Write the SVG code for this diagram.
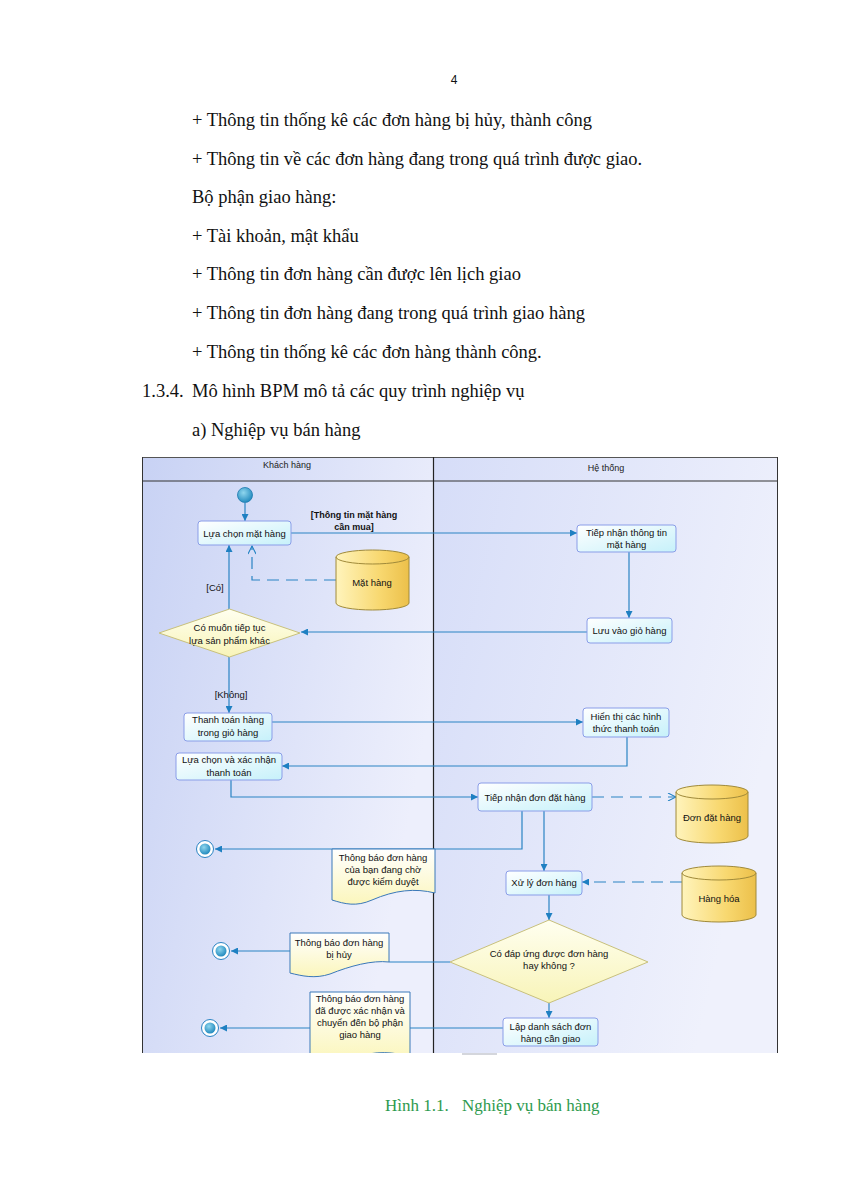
<svg xmlns="http://www.w3.org/2000/svg" width="849" height="1200" viewBox="0 0 849 1200">
<defs>
<style>
.pg{font-family:"Liberation Serif","Times New Roman",serif;font-size:18.5px;fill:#111}
.t{font-family:"Liberation Sans",Arial,sans-serif;font-size:9.5px;fill:#111;text-anchor:middle}
.hd{font-family:"Liberation Sans",Arial,sans-serif;font-size:9px;fill:#222;text-anchor:middle}
.b{font-weight:bold;font-size:9px}
.act{fill:url(#gAct);stroke:#8a9de8;stroke-width:1}
.dia{fill:url(#gDia);stroke:#c8c07c;stroke-width:1}
.cyl{fill:url(#gCyl);stroke:#a08a3a;stroke-width:1}
.doc{fill:url(#gDoc);stroke:#3a78b8;stroke-width:1}
.ln{fill:none;stroke:#2a84c4;stroke-width:1.2}
.dash{fill:none;stroke:#2a84c4;stroke-width:1.2;stroke-dasharray:12,7}
</style>
<linearGradient id="gLaneL" x1="0" y1="0" x2="1" y2="0.4">
<stop offset="0" stop-color="#c8d2f4"/><stop offset="1" stop-color="#edeffc"/></linearGradient>
<linearGradient id="gLaneR" x1="0" y1="0" x2="1" y2="0.4">
<stop offset="0" stop-color="#d6ddf8"/><stop offset="1" stop-color="#eff1fc"/></linearGradient>
<linearGradient id="gAct" x1="0" y1="0" x2="1" y2="1">
<stop offset="0" stop-color="#ffffff"/><stop offset="1" stop-color="#c6f1fa"/></linearGradient>
<linearGradient id="gDia" x1="0" y1="0" x2="0" y2="1">
<stop offset="0" stop-color="#fffff0"/><stop offset="1" stop-color="#f8f4b8"/></linearGradient>
<linearGradient id="gCyl" x1="0" y1="0" x2="1" y2="0">
<stop offset="0" stop-color="#fff4bc"/><stop offset="0.6" stop-color="#f8d870"/><stop offset="1" stop-color="#ecc04a"/></linearGradient>
<linearGradient id="gDoc" x1="0" y1="0" x2="0" y2="1">
<stop offset="0" stop-color="#ffffff"/><stop offset="1" stop-color="#fbf6bc"/></linearGradient>
<radialGradient id="gNode" cx="0.4" cy="0.35" r="0.7">
<stop offset="0" stop-color="#8fd6ee"/><stop offset="1" stop-color="#1c86bb"/></radialGradient>
<marker id="arr" viewBox="0 0 10 10" refX="10" refY="5" markerWidth="9" markerHeight="7" markerUnits="userSpaceOnUse" orient="auto">
<path d="M0,0 L10,5 L0,10 z" fill="#1f80c2"/></marker>
<marker id="open" viewBox="0 0 10 10" refX="10" refY="5" markerWidth="10" markerHeight="8" markerUnits="userSpaceOnUse" orient="auto">
<path d="M0,0 L10,5 L0,10" fill="none" stroke="#1f80c2" stroke-width="1.3"/></marker>
<clipPath id="clipD"><rect x="141" y="456" width="639" height="597"/></clipPath>
</defs>
<rect width="849" height="1200" fill="#ffffff"/>

<g id="page-text">
<text x="454" y="84" font-family="'Liberation Sans',Arial,sans-serif" font-size="12" text-anchor="middle" fill="#111">4</text>
<text class="pg" x="192" y="126">+ Thông tin thống kê các đơn hàng bị hủy, thành công</text>
<text class="pg" x="192" y="165">+ Thông tin về các đơn hàng đang trong quá trình được giao.</text>
<text class="pg" x="192" y="203">Bộ phận giao hàng:</text>
<text class="pg" x="192" y="242">+ Tài khoản, mật khẩu</text>
<text class="pg" x="192" y="280">+ Thông tin đơn hàng cần được lên lịch giao</text>
<text class="pg" x="192" y="319">+ Thông tin đơn hàng đang trong quá trình giao hàng</text>
<text class="pg" x="192" y="358">+ Thông tin thống kê các đơn hàng thành công.</text>
<text class="pg" x="142" y="397">1.3.4.</text>
<text class="pg" x="192" y="397">Mô hình BPM mô tả các quy trình nghiệp vụ</text>
<text class="pg" x="192" y="436">a) Nghiệp vụ bán hàng</text>
</g>

<g id="diagram" clip-path="url(#clipD)">
<g id="lanes">
<rect x="142" y="457" width="291" height="600" fill="url(#gLaneL)"/>
<rect x="433" y="457" width="345" height="600" fill="url(#gLaneR)"/>
<line x1="142" y1="457.5" x2="778" y2="457.5" stroke="#555" stroke-width="1"/>
<line x1="142" y1="481" x2="778" y2="481" stroke="#333" stroke-width="1"/>
<line x1="142.5" y1="457" x2="142.5" y2="1060" stroke="#333" stroke-width="1"/>
<line x1="433.5" y1="457" x2="433.5" y2="1060" stroke="#222" stroke-width="1.2"/>
<line x1="777.5" y1="457" x2="777.5" y2="1060" stroke="#333" stroke-width="1"/>
<text class="hd" x="287" y="467.5">Khách hàng</text>
<text class="hd" x="606" y="471">Hệ thống</text>
</g>

<g id="connectors">
<path class="ln" d="M245,503 V521" marker-end="url(#arr)"/>
<path class="ln" d="M291,533 H577" marker-end="url(#arr)"/>
<path class="ln" d="M629,552 V618" marker-end="url(#arr)"/>
<path class="ln" d="M587,632 H301" marker-end="url(#arr)"/>
<path class="ln" d="M229,609 V545" marker-end="url(#arr)"/>
<path class="dash" d="M336,580 H252 V546" marker-end="url(#open)"/>
<path class="ln" d="M229,657 V713" marker-end="url(#arr)"/>
<path class="ln" d="M272,722 H583" marker-end="url(#arr)"/>
<path class="ln" d="M627,737 V766 H282" marker-end="url(#arr)"/>
<path class="ln" d="M231,780 V797 H478" marker-end="url(#arr)"/>
<path class="dash" d="M592,797 H676" marker-end="url(#open)"/>
<path class="ln" d="M522,811 V849 H215" marker-end="url(#arr)"/>
<path class="ln" d="M544,811 V871" marker-end="url(#arr)"/>
<path class="dash" d="M682,882 H582" marker-end="url(#arr)"/>
<path class="ln" d="M549,895 V920" marker-end="url(#arr)"/>
<path class="ln" d="M450,962 H389"/>
<path class="ln" d="M290,951 H231" marker-end="url(#arr)"/>
<path class="ln" d="M549,1003 V1018" marker-end="url(#arr)"/>
<path class="ln" d="M503,1028 H410"/>
<path class="ln" d="M310,1028 H220" marker-end="url(#arr)"/>
<text class="t b" x="354" y="518">[Thông tin mặt hàng</text>
<text class="t b" x="354" y="530">cần mua]</text>
<text class="t" x="215" y="590.5">[Có]</text>
<text class="t" x="231" y="697.5">[Không]</text>
</g>

<g id="start">
<circle cx="245" cy="495" r="7.5" fill="url(#gNode)" stroke="#1a78ae" stroke-width="0.8"/>
</g>

<g id="n-lua-chon-mat-hang">
<rect class="act" x="198" y="521" width="93" height="24" rx="3"/>
<text class="t" x="244.5" y="536.5">Lựa chọn mặt hàng</text>
</g>

<g id="n-tiep-nhan-thong-tin">
<rect class="act" x="577" y="525" width="99" height="27" rx="3"/>
<text class="t" x="626.5" y="535.5">Tiếp nhận thông tin</text>
<text class="t" x="626.5" y="548">mặt hàng</text>
</g>

<g id="n-mat-hang">
<path class="cyl" d="M336,557 A36.5,7 0 0 1 409,557 V603 A36.5,7 0 0 1 336,603 Z"/>
<path fill="none" stroke="#a08a3a" stroke-width="1" d="M336,557 A36.5,7 0 0 0 409,557"/>
<text class="t" x="372" y="586">Mặt hàng</text>
</g>

<g id="n-luu-gio-hang">
<rect class="act" x="587" y="618" width="85" height="25" rx="3"/>
<text class="t" x="629.5" y="634">Lưu vào giỏ hàng</text>
</g>

<g id="n-co-muon-tiep-tuc">
<path class="dia" d="M159,633 L229.5,609 L300,633 L229.5,657 Z"/>
<text class="t" x="229.5" y="631">Có muốn tiếp tục</text>
<text class="t" x="229.5" y="644">lựa sản phẩm khác</text>
</g>

<g id="n-thanh-toan">
<rect class="act" x="184" y="713" width="88" height="28" rx="3"/>
<text class="t" x="228" y="722.5">Thanh toán hàng</text>
<text class="t" x="228" y="735.5">trong giỏ hàng</text>
</g>

<g id="n-hien-thi">
<rect class="act" x="583" y="708" width="86" height="29" rx="3"/>
<text class="t" x="626" y="719.5">Hiển thị các hình</text>
<text class="t" x="626" y="731.5">thức thanh toán</text>
</g>

<g id="n-lua-chon-xac-nhan">
<rect class="act" x="176" y="753" width="106" height="27" rx="3"/>
<text class="t" x="229" y="763">Lựa chọn và xác nhận</text>
<text class="t" x="229" y="775.5">thanh toán</text>
</g>

<g id="n-tiep-nhan-don">
<rect class="act" x="478" y="783" width="114" height="28" rx="3"/>
<text class="t" x="535" y="800.5">Tiếp nhận đơn đặt hàng</text>
</g>

<g id="n-don-dat-hang">
<path class="cyl" d="M676,792 A36,7 0 0 1 748,792 V836 A36,7 0 0 1 676,836 Z"/>
<path fill="none" stroke="#a08a3a" stroke-width="1" d="M676,792 A36,7 0 0 0 748,792"/>
<text class="t" x="712" y="821">Đơn đặt hàng</text>
</g>

<g id="end1">
<circle cx="205" cy="849" r="8.5" fill="#ffffff" stroke="#2a84c4" stroke-width="1"/>
<circle cx="205" cy="849" r="5.5" fill="url(#gNode)"/>
</g>

<g id="n-thong-bao-cho">
<path class="doc" d="M332,849 H435 V893 C415,888 395,890 372,900 C356,907 345,904 332,900 Z"/>
<text class="t" x="383" y="861">Thông báo đơn hàng</text>
<text class="t" x="383" y="873">của bạn đang chờ</text>
<text class="t" x="383" y="885">được kiểm duyệt</text>
</g>

<g id="n-xu-ly">
<rect class="act" x="506" y="871" width="76" height="24" rx="3"/>
<text class="t" x="544" y="886">Xử lý đơn hàng</text>
</g>

<g id="n-hang-hoa">
<path class="cyl" d="M682,873 A37,7 0 0 1 756,873 V915 A37,7 0 0 1 682,915 Z"/>
<path fill="none" stroke="#a08a3a" stroke-width="1" d="M682,873 A37,7 0 0 0 756,873"/>
<text class="t" x="719" y="902">Hàng hóa</text>
</g>

<g id="n-co-dap-ung">
<path class="dia" d="M450,962 L549,920 L648,962 L549,1003 Z"/>
<text class="t" x="549" y="957">Có đáp ứng được đơn hàng</text>
<text class="t" x="549" y="969">hay không ?</text>
</g>

<g id="end2">
<circle cx="221" cy="951" r="8.5" fill="#ffffff" stroke="#2a84c4" stroke-width="1"/>
<circle cx="221" cy="951" r="5.5" fill="url(#gNode)"/>
</g>

<g id="n-thong-bao-huy">
<path class="doc" d="M290,933 H389 V962 C372,960 350,966 330,974 C315,979 302,976 290,973 Z"/>
<text class="t" x="339" y="946">Thông báo đơn hàng</text>
<text class="t" x="339" y="958">bị hủy</text>
</g>

<g id="n-lap-danh-sach">
<rect class="act" x="503" y="1018" width="95" height="28" rx="3"/>
<text class="t" x="550.5" y="1029.5">Lập danh sách đơn</text>
<text class="t" x="550.5" y="1041.5">hàng cần giao</text>
</g>

<g id="end3">
<circle cx="210" cy="1028" r="8.5" fill="#ffffff" stroke="#2a84c4" stroke-width="1"/>
<circle cx="210" cy="1028" r="5.5" fill="url(#gNode)"/>
</g>

<g id="n-thong-bao-xac-nhan">
<path class="doc" d="M310,992 H410 V1060 H310 Z"/>
<path fill="none" stroke="#3a78b8" stroke-width="1" d="M410,1057 C395,1052 375,1050 355,1058"/>
<text class="t" x="360" y="1001.5">Thông báo đơn hàng</text>
<text class="t" x="360" y="1013.5">đã được xác nhận và</text>
<text class="t" x="360" y="1025.5">chuyển đến bộ phận</text>
<text class="t" x="360" y="1038">giao hàng</text>
</g>
</g>
<rect x="462" y="1053" width="35" height="2" fill="#d4d6dc"/>

<g id="caption">
<text x="385" y="1111" font-family="'Liberation Serif','Times New Roman',serif" font-size="17" fill="#2e9a4e">Hình 1.1.</text>
<text x="462" y="1111" font-family="'Liberation Serif','Times New Roman',serif" font-size="17" fill="#2e9a4e">Nghiệp vụ bán hàng</text>
</g>
</svg>
